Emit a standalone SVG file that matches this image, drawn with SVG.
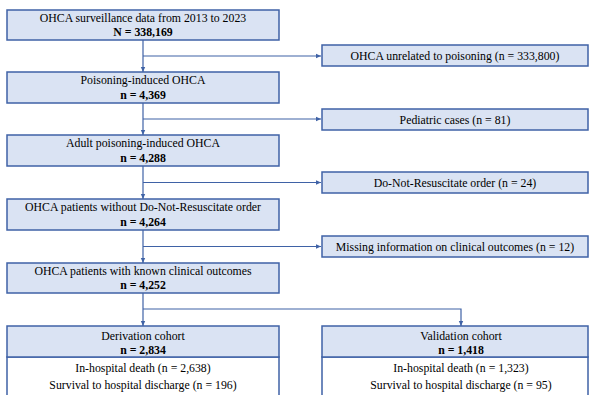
<svg xmlns="http://www.w3.org/2000/svg" width="590" height="395" viewBox="0 0 590 395">
<defs>
<style>
.box{fill:#dae3f3;stroke:#3f62a6;stroke-width:1.5}
.wbox{fill:#ffffff;stroke:#3f62a6;stroke-width:1.5}
.ln{fill:none;stroke:#3f62a6;stroke-width:1.2}
.t{font-family:'Liberation Serif',serif;font-size:11.8px;fill:#000;text-anchor:middle}
.b{font-weight:bold}
</style>
<marker id="ah" markerWidth="6" markerHeight="6" refX="5" refY="3" orient="auto" markerUnits="userSpaceOnUse">
<path d="M0,0.8 L5,3 L0,5.2 Z" fill="#3f62a6"/>
</marker>
</defs>
<rect width="590" height="395" fill="#ffffff"/>
<g id="connectors">
<path class="ln" d="M143,40 V72" marker-end="url(#ah)"/>
<path class="ln" d="M143,56 H321" marker-end="url(#ah)"/>
<path class="ln" d="M143,103 V135" marker-end="url(#ah)"/>
<path class="ln" d="M143,119 H321" marker-end="url(#ah)"/>
<path class="ln" d="M143,166 V199" marker-end="url(#ah)"/>
<path class="ln" d="M143,182.5 H321" marker-end="url(#ah)"/>
<path class="ln" d="M143,230 V263" marker-end="url(#ah)"/>
<path class="ln" d="M143,246.5 H321" marker-end="url(#ah)"/>
<path class="ln" d="M143,293 V326" marker-end="url(#ah)"/>
<path class="ln" d="M143,309 H461 V326" marker-end="url(#ah)"/>
</g>
<g font-family="Liberation Serif, serif">
<g id="n1">
<rect class="box" x="7" y="10" width="272" height="30"/>
<text class="t" x="143" y="21.5">OHCA surveillance data from 2013 to 2023</text>
<text class="t b" x="143" y="36">N = 338,169</text>
</g>
<g id="n2">
<rect class="box" x="7" y="72" width="272" height="31"/>
<text class="t" x="143" y="84">Poisoning-induced OHCA</text>
<text class="t b" x="143" y="98.5">n = 4,369</text>
</g>
<g id="n3">
<rect class="box" x="7" y="135" width="272" height="31"/>
<text class="t" x="143" y="147">Adult poisoning-induced OHCA</text>
<text class="t b" x="143" y="161.5">n = 4,288</text>
</g>
<g id="n4">
<rect class="box" x="7" y="199" width="272" height="31"/>
<text class="t" x="143" y="211">OHCA patients without Do-Not-Resuscitate order</text>
<text class="t b" x="143" y="225.5">n = 4,264</text>
</g>
<g id="n5">
<rect class="box" x="7" y="263" width="272" height="30"/>
<text class="t" x="143" y="274.5">OHCA patients with known clinical outcomes</text>
<text class="t b" x="143" y="289">n = 4,252</text>
</g>
<g id="r1">
<rect class="box" x="322" y="45" width="266" height="21"/>
<text class="t" x="455" y="59.5">OHCA unrelated to poisoning (n = 333,800)</text>
</g>
<g id="r2">
<rect class="box" x="322" y="109" width="266" height="21"/>
<text class="t" x="455" y="123.5">Pediatric cases (n = 81)</text>
</g>
<g id="r3">
<rect class="box" x="322" y="172" width="266" height="21"/>
<text class="t" x="455" y="186.5">Do-Not-Resuscitate order (n = 24)</text>
</g>
<g id="r4">
<rect class="box" x="322" y="236" width="266" height="21"/>
<text class="t" x="455" y="250.5">Missing information on clinical outcomes (n = 12)</text>
</g>
<g id="derivation">
<rect class="wbox" x="7" y="357" width="272" height="45"/>
<rect class="box" x="7" y="326" width="272" height="31"/>
<text class="t" x="143" y="340">Derivation cohort</text>
<text class="t b" x="143" y="354">n = 2,834</text>
<text class="t" x="143" y="372">In-hospital death (n = 2,638)</text>
<text class="t" x="143" y="389">Survival to hospital discharge (n = 196)</text>
</g>
<g id="validation">
<rect class="wbox" x="322" y="357" width="266" height="45"/>
<rect class="box" x="322" y="326" width="266" height="31"/>
<text class="t" x="461" y="340">Validation cohort</text>
<text class="t b" x="461" y="354">n = 1,418</text>
<text class="t" x="461" y="372">In-hospital death (n = 1,323)</text>
<text class="t" x="461" y="389">Survival to hospital discharge (n = 95)</text>
</g>
</g>
</svg>
